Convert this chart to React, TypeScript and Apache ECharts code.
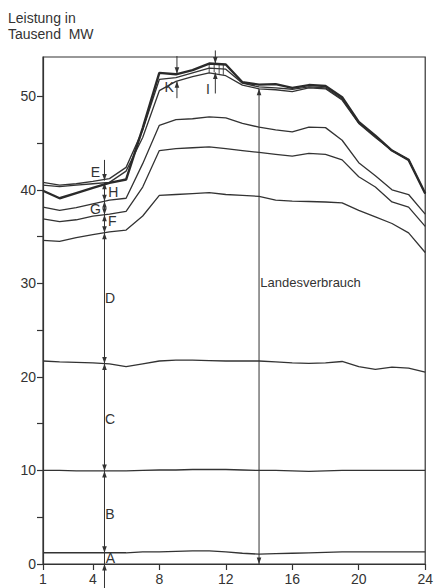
import React, { useEffect, useRef } from "react";
import * as echarts from "echarts";

// Hour of day 1..24
const HOURS = [1, 2, 3, 4, 5, 6, 7, 8, 9, 10, 11, 12, 13, 14, 15, 16, 17, 18, 19, 20, 21, 22, 23, 24];

// Band boundaries (Tausend MW)
const LINE_A = [1.2, 1.2, 1.2, 1.2, 1.2, 1.2, 1.3, 1.3, 1.35, 1.4, 1.4, 1.3, 1.15, 1.05, 1.1, 1.15, 1.2, 1.25, 1.3, 1.3, 1.3, 1.3, 1.3, 1.3];
const LINE_B = [10.0, 10.0, 9.95, 9.95, 9.95, 9.95, 10.0, 10.05, 10.05, 10.1, 10.1, 10.1, 10.05, 10.0, 10.0, 9.95, 9.9, 9.95, 10.0, 10.0, 10.0, 10.0, 10.0, 10.0];
const LINE_C = [21.7, 21.6, 21.55, 21.5, 21.4, 21.1, 21.4, 21.7, 21.8, 21.8, 21.75, 21.7, 21.7, 21.7, 21.6, 21.5, 21.45, 21.5, 21.65, 21.1, 20.8, 21.05, 20.95, 20.5];
const LINE_D = [34.6, 34.5, 34.9, 35.2, 35.5, 35.7, 37.2, 39.4, 39.5, 39.6, 39.7, 39.5, 39.4, 39.3, 38.9, 38.8, 38.75, 38.7, 38.6, 37.8, 37.1, 36.4, 35.4, 33.3];
const LINE_F = [36.9, 36.6, 36.8, 37.2, 37.4, 37.7, 40.3, 44.2, 44.4, 44.5, 44.6, 44.4, 44.2, 44.0, 43.8, 43.6, 43.9, 43.8, 43.2, 41.4, 40.3, 38.7, 38.15, 36.1];
const LINE_G = [38.15, 37.8, 38.1, 38.5, 38.9, 39.1, 42.8, 46.9, 47.5, 47.6, 47.8, 47.7, 47.1, 46.7, 46.4, 46.2, 46.7, 46.65, 45.3, 42.9, 41.5, 40.0, 39.5, 37.4];
const LANDESVERBRAUCH = [40.5, 40.35, 40.5, 40.65, 40.8, 42.0, 45.6, 50.6, 51.6, 52.1, 52.5, 52.2, 51.2, 50.8, 50.7, 50.5, 50.9, 50.8, 49.6, 47.1, 45.6, 44.2, 43.2, 39.6];
const LINE_UPPER = [40.8, 40.5, 40.65, 40.9, 41.2, 42.4, 46.4, 51.8, 52.0, 52.5, 53.0, 52.9, 51.4, 51.0, 50.9, 50.75, 51.0, 50.9, 49.7, 47.2, 45.7, 44.2, 43.2, 39.6];
const ERZEUGUNG = [39.9, 39.1, 39.65, 40.2, 40.75, 41.1, 46.6, 52.5, 52.35, 52.8, 53.5, 53.4, 51.5, 51.25, 51.3, 50.9, 51.2, 51.1, 49.9, 47.25, 45.8, 44.2, 43.2, 39.6];

const X_TICKS = [1, 4, 8, 12, 16, 20, 24];
const Y_TICKS = [0, 5, 10, 15, 20, 25, 30, 35, 40, 45, 50];
const Y_LABELS = [0, 10, 20, 30, 40, 50];

// Dimension arrows: [hour, fromValue, toValue, headAtFrom, headAtTo]
const ARROWS = [
  [4.7, -2.6, 0, 0, 1],
  [4.7, 0, 1.2, 0, 0],
  [4.7, 1.2, 9.95, 1, 1],
  [4.7, 9.95, 21.43, 1, 1],
  [4.7, 21.43, 35.41, 1, 1],
  [4.7, 35.41, 37.34, 1, 1],
  [4.7, 37.34, 38.78, 1, 1],
  [4.7, 38.78, 40.75, 1, 1],
  [4.7, 43.2, 41.0, 0, 1],
  [14, 0, 50.8, 1, 1],
  [9.06, 54.3, 52.4, 0, 1],
  [9.06, 49.8, 51.6, 0, 1],
  [11.37, 54.9, 53.5, 0, 1],
  [11.37, 50.3, 52.55, 0, 1],
];

// Hatching in band I: [hour, fromValue, toValue]
const HATCH_I = [
  [11.0, 52.5, 53.45],
  [11.3, 52.55, 53.5],
  [11.6, 52.4, 53.48],
  [11.85, 52.3, 53.43],
];

const LABEL_TEXTS = ["A", "B", "C", "D", "F", "H", "G", "E", "K", "I", "Landesverbrauch"];
const LABEL_AT = [
  [5.05, 0.6], [5.03, 5.35], [5.03, 15.5], [5.03, 28.4], [5.17, 36.7], [5.23, 39.8],
  [4.15, 38.0], [4.15, 41.9], [8.6, 51.0], [10.93, 50.8], [14.08, 30.1],
];

const INK = "#333333";
const FONT = "Liberation Sans, Arial, sans-serif";

function pairs(values: number[]) {
  return HOURS.map((h, i) => [h, values[i]]);
}

export default function App() {
  const ref = useRef<HTMLDivElement>(null);

  useEffect(() => {
    if (!ref.current) return;
    const chart = echarts.init(ref.current, undefined, { renderer: "svg" });

    const thin = (name: string, values: number[]) => ({
      name,
      type: "line",
      data: pairs(values),
      symbol: "none",
      lineStyle: { color: INK, width: 1.3 },
      silent: true,
    });

    const head = (tip: number[], fromY: number) => {
      const dir = fromY > tip[1] ? 1 : -1;
      return {
        type: "polygon",
        shape: {
          points: [
            [tip[0], tip[1]],
            [tip[0] - 2.3, tip[1] + dir * 6.5],
            [tip[0] + 2.3, tip[1] + dir * 6.5],
          ],
        },
        style: { fill: INK },
      };
    };

    const option: any = {
      animation: false,
      backgroundColor: "#ffffff",
      grid: {
        left: 43,
        right: 3,
        top: 57,
        bottom: 24,
        show: true,
        borderColor: INK,
        borderWidth: 1.2,
        backgroundColor: "transparent",
      },
      graphic: [
        {
          type: "text",
          left: 8,
          top: 11,
          style: { text: "Leistung in", fontSize: 14, fontFamily: FONT, fill: INK },
        },
        {
          type: "text",
          left: 8,
          top: 27,
          style: { text: "Tausend  MW", fontSize: 14, fontFamily: FONT, fill: INK },
        },
      ],
      xAxis: {
        type: "value",
        min: 1,
        max: 24,
        axisLine: { show: true, lineStyle: { color: INK, width: 1.2 } },
        axisTick: { show: true, customValues: X_TICKS, length: 6, lineStyle: { color: INK, width: 1.2 } },
        axisLabel: { customValues: X_TICKS, fontSize: 14, fontFamily: FONT, color: INK, margin: 8 },
        splitLine: { show: false },
      },
      yAxis: {
        type: "value",
        min: 0,
        max: 54.2,
        axisLine: { show: true, lineStyle: { color: INK, width: 1.2 } },
        axisTick: { show: true, customValues: Y_TICKS, length: 6, lineStyle: { color: INK, width: 1.2 } },
        axisLabel: { customValues: Y_LABELS, fontSize: 14, fontFamily: FONT, color: INK, margin: 7 },
        splitLine: { show: false },
      },
      series: [
        thin("A", LINE_A),
        thin("B", LINE_B),
        thin("C", LINE_C),
        thin("D", LINE_D),
        thin("F", LINE_F),
        thin("G", LINE_G),
        thin("Landesverbrauch", LANDESVERBRAUCH),
        thin("Oben", LINE_UPPER),
        {
          name: "Erzeugung",
          type: "line",
          data: pairs(ERZEUGUNG),
          symbol: "none",
          lineStyle: { color: "#2a2a2a", width: 2.4 },
          silent: true,
        },
        {
          name: "Pfeile",
          type: "custom",
          data: ARROWS,
          encode: { x: 0, y: [1, 2] },
          silent: true,
          clip: false,
          renderItem: (params: any, api: any) => {
            const x = api.value(0);
            const p1 = api.coord([x, api.value(1)]);
            const p2 = api.coord([x, api.value(2)]);
            const children: any[] = [
              {
                type: "line",
                shape: { x1: p1[0], y1: p1[1], x2: p2[0], y2: p2[1] },
                style: { stroke: INK, lineWidth: 1 },
              },
            ];
            if (api.value(3)) children.push(head(p1, p2[1]));
            if (api.value(4)) children.push(head(p2, p1[1]));
            return { type: "group", children };
          },
        },
        {
          name: "Schraffur",
          type: "custom",
          data: HATCH_I,
          encode: { x: 0, y: [1, 2] },
          silent: true,
          clip: false,
          renderItem: (params: any, api: any) => {
            const x = api.value(0);
            const p1 = api.coord([x, api.value(1)]);
            const p2 = api.coord([x, api.value(2)]);
            return {
              type: "line",
              shape: { x1: p1[0], y1: p1[1], x2: p2[0], y2: p2[1] },
              style: { stroke: INK, lineWidth: 0.9 },
            };
          },
        },
        {
          name: "Beschriftung",
          type: "custom",
          data: LABEL_AT,
          encode: { x: 0, y: 1 },
          silent: true,
          clip: false,
          renderItem: (params: any, api: any) => {
            const p = api.coord([api.value(0), api.value(1)]);
            const text = LABEL_TEXTS[params.dataIndex];
            const long = text.length > 1;
            return {
              type: "text",
              x: p[0],
              y: p[1],
              style: {
                text,
                fontSize: long ? 13 : 14,
                fontFamily: FONT,
                fill: INK,
                align: long ? "left" : "center",
                verticalAlign: "middle",
              },
            };
          },
        },
      ],
    };

    chart.setOption(option);
    return () => chart.dispose();
  }, []);

  return (
    <div
      ref={ref}
      style={{ position: "fixed", left: 0, top: 0, width: 436, height: 588, background: "#fff" }}
    />
  );
}
